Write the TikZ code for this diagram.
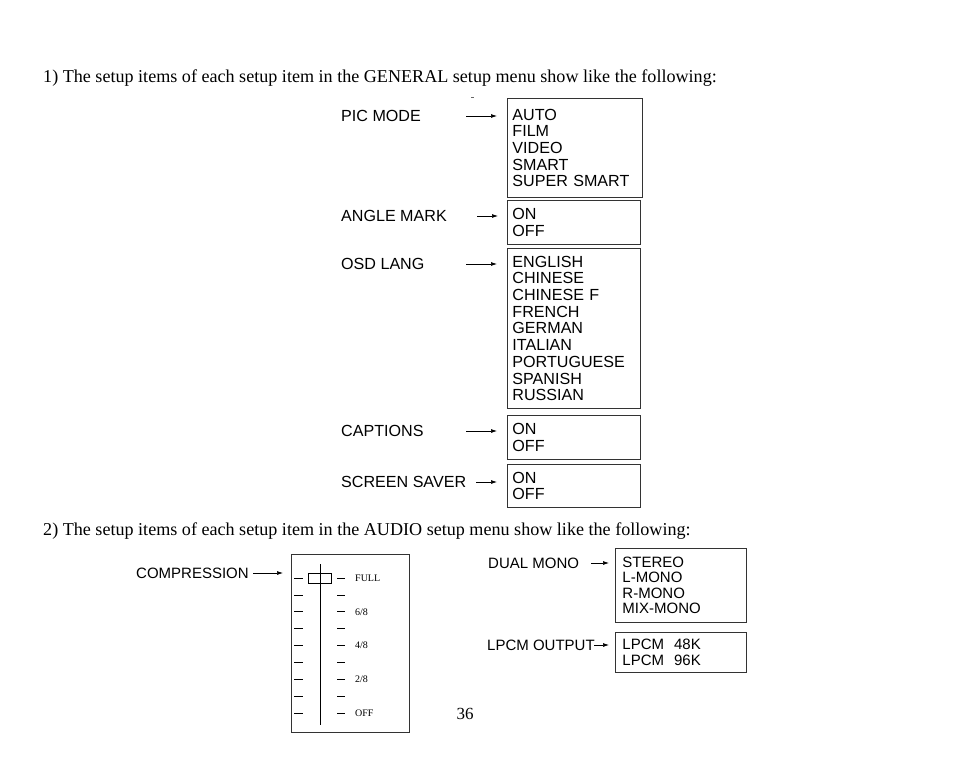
\documentclass[tikz,border=0pt]{standalone}
\usepackage{fontspec}
\setmainfont{Liberation Serif}
\setsansfont{Liberation Sans}
\usetikzlibrary{arrows.meta}

\begin{document}
\begin{tikzpicture}[x=1pt, y=-1pt,
    head/.style={anchor=base west, inner sep=0pt, font=\fontsize{18.1}{20}\selectfont},
    label/.style={anchor=west, inner sep=0pt, font=\sffamily\fontsize{16.1}{17}\selectfont},
    menubox/.style={draw=black!80, line width=0.9pt, anchor=north west, align=left,
        inner xsep=5pt, inner ysep=0pt, font=\sffamily\fontsize{16.1}{16.7}\selectfont},
    menuarrow/.style={-{Latex[length=6pt,width=4pt]}, line width=0.7pt}]
    \useasboundingbox (0,0) rectangle (954,781);

    % GENERAL setup menu
    \node[head] (general) at (43,83) {1) The setup items of each setup item in the GENERAL setup menu show like the following:};

    \node[label] (picmode) at (341,116) {PIC MODE};
    \node[menubox, text width=125pt, minimum height=99pt] (picbox) at (507,98) {AUTO\\FILM\\VIDEO\\SMART\\SUPER SMART};
    \draw[menuarrow, shorten >=10pt] (picmode.east -| 466,0) -- (picmode.east -| picbox.west);
    \draw[black!60, line width=0.6pt] (471,97) -- (474,97);

    \node[label] (anglemark) at (341,216) {ANGLE MARK};
    \node[menubox, text width=123pt, minimum height=44pt] (anglebox) at (507,200) {ON\\OFF};
    \draw[menuarrow, shorten >=9pt] (anglemark.east -| 477,0) -- (anglemark.east -| anglebox.west);

    \node[label] (osdlang) at (341,264) {OSD LANG};
    \node[menubox, text width=123pt, minimum height=160pt] (osdbox) at (507,248) {ENGLISH\\CHINESE\\CHINESE F\\FRENCH\\GERMAN\\ITALIAN\\PORTUGUESE\\SPANISH\\RUSSIAN};
    \draw[menuarrow, shorten >=10pt] (osdlang.east -| 466,0) -- (osdlang.east -| osdbox.west);

    \node[label] (captions) at (341,431) {CAPTIONS};
    \node[menubox, text width=123pt, minimum height=44pt] (capbox) at (507,415) {ON\\OFF};
    \draw[menuarrow, shorten >=10pt] (captions.east -| 466,0) -- (captions.east -| capbox.west);

    \node[label] (saver) at (341,482) {SCREEN SAVER};
    \node[menubox, text width=123pt, minimum height=43pt] (saverbox) at (507,464) {ON\\OFF};
    \draw[menuarrow, shorten >=10pt] (saver.east -| 476,0) -- (saver.east -| saverbox.west);

    % AUDIO setup menu
    \node[head] (audio) at (43,535) {2) The setup items of each setup item in the AUDIO setup menu show like the following:};

    \node[label, font=\sffamily\fontsize{15}{16}\selectfont] (compression) at (136,573) {COMPRESSION};
    \node[draw=black!80, line width=0.9pt, anchor=north west, minimum width=118pt, minimum height=178pt] (slider) at (291,554) {};
    \draw[menuarrow, shorten >=8pt] (compression.east -| 253,0) -- (compression.east -| slider.west);
    \foreach \i in {0,...,8}{
        \draw[line width=0.8pt] (294,578+16.9*\i) -- (303,578+16.9*\i);
        \draw[line width=0.8pt] (337,578+16.9*\i) -- (345,578+16.9*\i);
    }
    \draw[line width=0.8pt] (320,564) -- (320,725);
    \draw[line width=0.8pt] (308,573) rectangle (331,583);
    \foreach \y/\t in {578/FULL, 611.8/{6/8}, 645.6/{4/8}, 679.4/{2/8}, 713.2/OFF}
        \node[anchor=west, inner sep=0pt, font=\fontsize{10}{11}\selectfont] at (355,\y) {\t};

    \node[label, font=\sffamily\fontsize{15}{16}\selectfont] (dualmono) at (488,563) {DUAL MONO};
    \node[menubox, text width=117pt, inner xsep=7pt, minimum height=74pt, font=\sffamily\fontsize{15}{15.3}\selectfont] (dualbox) at (615,548) {STEREO\\L-MONO\\R-MONO\\MIX-MONO};
    \draw[menuarrow, shorten >=6pt] (dualmono.east -| 591,0) -- (dualmono.east -| dualbox.west);

    \node[label, font=\sffamily\fontsize{15}{16}\selectfont] (lpcm) at (487,645) {LPCM OUTPUT};
    \node[menubox, text width=117pt, inner xsep=7pt, minimum height=40pt, font=\sffamily\fontsize{15}{15.3}\selectfont] (lpcmbox) at (615,632) {LPCM\ \ 48K\\LPCM\ \ 96K};
    \draw[menuarrow, shorten >=6pt] (lpcm.east -| 594,0) -- (lpcm.east -| lpcmbox.west);

    \node[inner sep=0pt, font=\fontsize{17}{18}\selectfont] (page) at (465,714) {36};
\end{tikzpicture}
\end{document}
